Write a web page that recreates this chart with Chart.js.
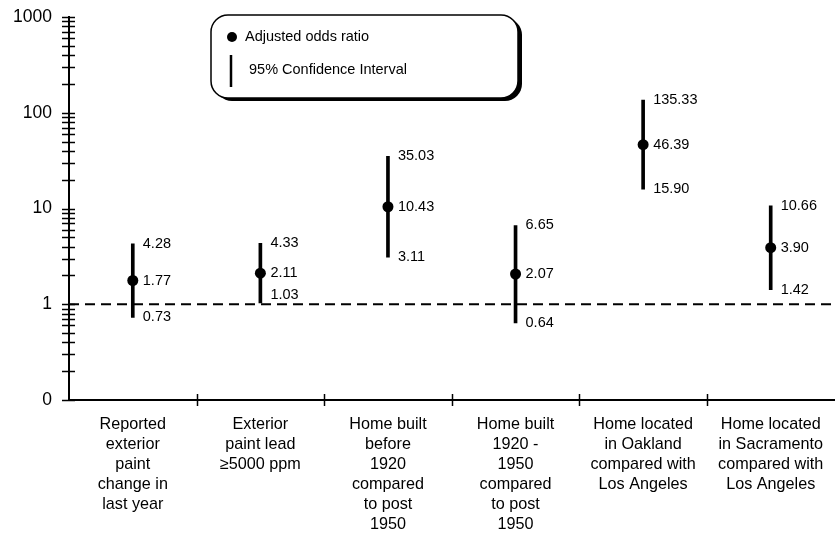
<!DOCTYPE html>
<html>
<head>
<meta charset="utf-8">
<script src="https://cdn.jsdelivr.net/npm/chart.js@4.4.1/dist/chart.umd.min.js"></script>
<style>
  html, body { margin: 0; padding: 0; background: #fff; overflow: hidden; }
  #wrap { width: 840px; height: 537px; }
</style>
</head>
<body>
<div id="wrap"><canvas id="chart1"></canvas></div>
<script>
// Adjusted odds ratios for each risk factor, with 95% confidence limits

const categories = [
    ['Reported', 'exterior', 'paint', 'change in', 'last year'],
    ['Exterior', 'paint lead', '\u22655000 ppm'],
    ['Home built', 'before', '1920', 'compared', 'to post', '1950'],
    ['Home built', '1920 -', '1950', 'compared', 'to post', '1950'],
    ['Home located', 'in Oakland', 'compared with', 'Los Angeles'],
    ['Home located', 'in Sacramento', 'compared with', 'Los Angeles']
];
const oddsRatio = [1.77, 2.11, 10.43, 2.07, 46.39, 3.90];
const ciLower = [0.73, 1.03, 3.11, 0.64, 15.90, 1.42];
const ciUpper = [4.28, 4.33, 35.03, 6.65, 135.33, 10.66];

// log axis decades; the bottom one is printed as "0"
const yTickValues = [0.1, 1, 10, 100, 1000];
const yTickLabels = ['0', '1', '10', '100', '1000'];
const referenceValue = 1;

const legendLabels = ['Adjusted odds ratio', '95% Confidence Interval'];

const FONT = "'Liberation Sans', Arial, Helvetica, sans-serif";

// tick marks that cross the axis lines, dashed line at OR = 1, value labels, legend box
const extras = {
    id: 'extras',
    beforeDatasetsDraw(chart) {
        const ctx = chart.ctx;
        const area = chart.chartArea;
        const yRef = chart.scales.y.getPixelForValue(referenceValue);
        ctx.save();
        ctx.strokeStyle = '#000';
        ctx.lineWidth = 2;
        ctx.setLineDash([10, 6]);
        ctx.beginPath();
        ctx.moveTo(area.left, yRef);
        ctx.lineTo(area.right, yRef);
        ctx.stroke();
        ctx.restore();
    },
    afterDatasetsDraw(chart) {
        const ctx = chart.ctx;
        const x = chart.scales.x;
        const y = chart.scales.y;
        const area = chart.chartArea;
        const yRef = y.getPixelForValue(referenceValue);

        ctx.save();
        ctx.strokeStyle = '#000';
        ctx.lineWidth = 1.5;

        // y ticks, major and minor alike
        y.ticks.forEach(t => {
            const py = Math.round(y.getPixelForValue(t.value)) + 0.5;
            ctx.beginPath();
            ctx.moveTo(area.left - 7, py);
            ctx.lineTo(area.left + 6, py);
            ctx.stroke();
        });

        // x ticks between categories
        for (let i = 1; i < categories.length; i++) {
            const px = Math.round((x.getPixelForValue(i - 1) + x.getPixelForValue(i)) / 2) + 0.5;
            ctx.beginPath();
            ctx.moveTo(px, area.bottom - 6);
            ctx.lineTo(px, area.bottom + 6);
            ctx.stroke();
        }

        // value labels next to each interval
        ctx.fillStyle = '#000';
        ctx.font = '14.5px ' + FONT;
        ctx.textAlign = 'left';
        ctx.textBaseline = 'middle';
        for (let i = 0; i < oddsRatio.length; i++) {
            const lx = x.getPixelForValue(i) + 10;
            [ciUpper[i], oddsRatio[i], ciLower[i]].forEach(v => {
                let ly = y.getPixelForValue(v);
                if (Math.abs(ly - yRef) < 8) ly = yRef - 9;
                ctx.fillText(v.toFixed(2), lx, ly);
            });
        }
        ctx.restore();
    },
    afterDraw(chart) {
        const ctx = chart.ctx;
        ctx.save();
        // legend box with offset shadow
        ctx.fillStyle = '#000';
        ctx.beginPath();
        ctx.roundRect(215, 18, 307, 83, 17);
        ctx.fill();
        ctx.fillStyle = '#fff';
        ctx.strokeStyle = '#000';
        ctx.lineWidth = 1.5;
        ctx.beginPath();
        ctx.roundRect(211, 15, 307, 83, 17);
        ctx.fill();
        ctx.stroke();

        ctx.fillStyle = '#000';
        ctx.beginPath();
        ctx.arc(232, 37, 5, 0, Math.PI * 2);
        ctx.fill();
        ctx.lineWidth = 2.5;
        ctx.beginPath();
        ctx.moveTo(231, 55);
        ctx.lineTo(231, 87);
        ctx.stroke();

        ctx.font = '14.5px ' + FONT;
        ctx.textAlign = 'left';
        ctx.textBaseline = 'middle';
        ctx.fillText(legendLabels[0], 245, 37);
        ctx.fillText(legendLabels[1], 249, 70);
        ctx.restore();
    }
};

new Chart(document.getElementById('chart1'), {
    data: {
        labels: categories,
        datasets: [
            {
                type: 'scatter',
                label: legendLabels[0],
                data: oddsRatio,
                showLine: false,
                pointRadius: 5.5,
                pointBackgroundColor: '#000',
                pointBorderWidth: 0,
                order: 0
            },
            {
                type: 'bar',
                label: legendLabels[1],
                data: ciLower.map((lo, i) => [lo, ciUpper[i]]),
                backgroundColor: '#000',
                barThickness: 3,
                order: 1
            }
        ]
    },
    options: {
        responsive: true,
        maintainAspectRatio: false,
        animation: false,
        layout: { padding: { top: 17, right: 1, left: 0, bottom: 0 } },
        plugins: {
            legend: { display: false },
            tooltip: { enabled: false }
        },
        scales: {
            x: {
                type: 'category',
                offset: true,
                grid: { display: false, drawTicks: false },
                border: { display: true, color: '#000', width: 2 },
                ticks: {
                    color: '#000',
                    padding: 15,
                    maxRotation: 0,
                    autoSkip: false,
                    font: { family: FONT, size: 16.2, lineHeight: 1.235 }
                },
                afterFit(scale) {
                    scale.height = 137;
                    scale.paddingLeft = 0;
                    scale.paddingRight = 0;
                }
            },
            y: {
                type: 'logarithmic',
                min: 0.1,
                max: 1000,
                grid: { display: false, drawTicks: false },
                border: { display: true, color: '#000', width: 2 },
                afterBuildTicks(scale) {
                    const ticks = [];
                    yTickValues.forEach((v, d) => {
                        ticks.push({ value: v });
                        if (d < yTickValues.length - 1) {
                            for (let m = 2; m <= 9; m++) ticks.push({ value: v * m });
                        }
                    });
                    scale.ticks = ticks;
                },
                ticks: {
                    color: '#000',
                    padding: 17,
                    autoSkip: false,
                    font: { family: FONT, size: 17.5 },
                    callback: function(value) {
                        const i = yTickValues.indexOf(value);
                        return i >= 0 ? yTickLabels[i] : '';
                    }
                },
                afterFit(scale) {
                    scale.width = 69;
                    scale.paddingTop = 0;
                    scale.paddingBottom = 0;
                }
            }
        }
    },
    plugins: [extras]
});
</script>
</body>
</html>
